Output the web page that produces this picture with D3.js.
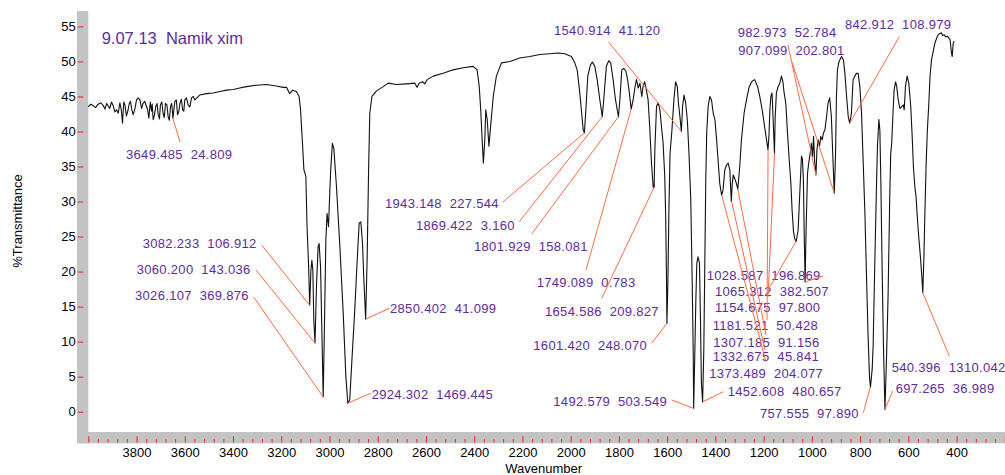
<!DOCTYPE html>
<html>
<head>
<meta charset="utf-8">
<script src="https://cdn.jsdelivr.net/npm/d3@7"></script>
<style>
  html, body { margin: 0; padding: 0; background: #fff; }
  svg { display: block; font-family: "Liberation Sans", Arial, sans-serif; }
</style>
</head>
<body>
<svg id="chart" width="1005" height="475"></svg>
<script>
// IR spectrum: wavenumber (cm-1) and %Transmittance
const wavenumbers = [
  4000, 3990, 3980, 3970, 3959, 3948, 3938, 3931, 3924, 3911, 3904, 3897, 3890, 3883, 3876,
  3869, 3863, 3858, 3853, 3848, 3842, 3835, 3830, 3825, 3819, 3814, 3807, 3800, 3793, 3786,
  3779, 3773, 3766, 3759, 3754, 3749, 3743, 3738, 3735, 3731, 3726, 3720, 3715, 3710, 3705,
  3701, 3695, 3690, 3685, 3680, 3674, 3669, 3664, 3659, 3654, 3649, 3645, 3641, 3635, 3630,
  3625, 3620, 3614, 3609, 3604, 3600, 3593, 3586, 3579, 3572, 3565, 3558,
  3538, 3510, 3482, 3455, 3427, 3399, 3372, 3344,
  3303, 3261, 3220, 3192, 3178, 3165, 3153, 3137, 3126, 3120, 3112, 3106, 3101, 3098, 3093,
  3087, 3082, 3077, 3073, 3069, 3065, 3060, 3054, 3047, 3043, 3037, 3032, 3026, 3021, 3015,
  3010, 3004, 3000, 2995, 2988, 2982, 2971, 2957, 2943, 2932, 2924, 2916, 2907, 2896, 2885,
  2877, 2870, 2863, 2858, 2850, 2844, 2838, 2833, 2824, 2805, 2777, 2757, 2722, 2681, 2646,
  2637, 2628, 2614, 2605, 2595, 2570, 2529, 2487, 2446, 2404, 2388, 2379, 2373, 2367, 2362,
  2356, 2352, 2346, 2339, 2332, 2321, 2308, 2287, 2252, 2211, 2169, 2128, 2086, 2052, 2024,
  1997, 1983, 1973, 1965, 1957, 1948, 1943, 1937, 1929, 1918, 1910, 1900, 1890, 1879, 1869,
  1863, 1852, 1842, 1834, 1824, 1814, 1802, 1796, 1788, 1780, 1771, 1765, 1758, 1749, 1741,
  1733, 1727, 1720, 1713, 1705, 1700, 1693, 1686, 1679, 1672, 1665, 1658, 1654, 1651, 1644,
  1637, 1630, 1623, 1617, 1610, 1606, 1603, 1601, 1597, 1593, 1588, 1581, 1572, 1565, 1558,
  1553, 1547, 1541, 1536, 1530, 1523, 1516, 1509, 1502, 1496, 1492, 1490, 1485, 1481, 1477,
  1472, 1466, 1462, 1458, 1453, 1448, 1444, 1440, 1436, 1430, 1423, 1416, 1409, 1402, 1396,
  1389, 1382, 1374, 1368, 1361, 1354, 1347, 1340, 1334, 1330, 1326, 1320, 1313, 1307, 1299,
  1292, 1281, 1271, 1261, 1250, 1237, 1225, 1216, 1206, 1198, 1190, 1182, 1178, 1174, 1170,
  1165, 1161, 1155, 1152, 1147, 1140, 1133, 1126, 1120, 1115, 1108, 1101, 1094, 1087, 1082,
  1076, 1071, 1065, 1057, 1050, 1043, 1039, 1035, 1032, 1028, 1024, 1018, 1013, 1007, 1002,
  997, 993, 988, 983, 979, 974, 968, 963, 957, 952, 946, 939, 933, 926, 919,
  913, 907, 902, 898, 894, 887, 877, 869, 863, 856, 849, 843, 836, 829, 822,
  815, 808, 801, 794, 787, 780, 774, 767, 761, 757, 750, 746, 739, 733, 728,
  722, 718, 714, 709, 703, 697, 691, 684, 677, 673, 669, 663, 659, 653, 648,
  642, 635, 628, 621, 617, 612, 605, 598, 590, 584, 579, 573, 568, 562, 557,
  551, 545, 540, 535, 532, 526, 521, 515, 510, 504, 497, 490, 483, 476, 469,
  463, 458, 451, 445, 438, 431, 427, 421, 418, 414, 410
];
const transmittance = [
  43.5, 43.9, 43.7, 43.4, 43.9, 44.1, 43.7, 43.2, 44.0, 43.3, 44.2, 43.7, 42.8, 43.1, 42.6,
  44.1, 43.0, 41.2, 44.2, 43.8, 42.2, 43.1, 44.0, 44.3, 43.0, 42.4, 43.2, 44.5, 44.8, 44.5,
  43.3, 44.0, 44.3, 43.6, 43.1, 41.9, 44.2, 42.9, 43.9, 41.7, 42.3, 43.6, 44.0, 42.4, 41.8,
  43.8, 44.2, 42.6, 42.0, 44.0, 43.8, 42.1, 41.6, 43.6, 44.0, 41.9, 43.2, 44.3, 44.5, 42.4,
  42.8, 44.0, 44.6, 43.1, 42.9, 44.5, 44.8, 43.8, 43.5, 44.8, 45.0, 44.5,
  45.2, 45.4, 45.5, 45.7, 45.9, 46.0, 46.2, 46.4,
  46.6, 46.7, 46.5, 46.3, 46.3, 45.4, 45.9, 45.7, 45.0, 43.1, 38.3, 34.5, 34.0, 33.6, 26.4,
  21.2, 15.2, 20.2, 21.6, 20.2, 13.1, 9.8, 17.9, 23.6, 24.0, 20.7, 12.1, 2.1, 12.1, 24.5,
  28.3, 26.4, 30.2, 34.5, 38.3, 37.6, 32.1, 23.6, 14.0, 5.0, 1.2, 1.7, 7.4, 14.0, 21.7,
  26.9, 27.1, 24.0, 19.3, 13.2, 21.7, 34.1, 42.6, 45.0, 45.8, 46.4, 46.9, 46.7, 46.8, 46.9,
  46.3, 46.9, 47.1, 46.8, 47.4, 47.9, 48.3, 48.8, 49.1, 49.3, 48.8, 46.4, 43.1, 38.8, 35.5,
  38.8, 43.1, 41.7, 37.9, 40.7, 45.0, 47.9, 49.8, 50.0, 50.5, 50.7, 51.0, 51.1, 51.2, 51.1,
  50.7, 49.8, 48.8, 46.4, 43.6, 40.2, 39.8, 43.1, 47.9, 49.5, 49.9, 49.3, 47.4, 44.5, 42.1,
  44.5, 49.3, 50.1, 49.8, 47.4, 44.5, 42.1, 44.5, 48.8, 49.0, 48.6, 47.6, 45.9, 43.2, 44.5,
  46.4, 47.4, 46.2, 46.9, 45.0, 46.4, 47.1, 45.9, 44.5, 40.5, 35.5, 32.1, 32.0, 37.4, 43.6,
  44.1, 43.1, 40.5, 38.5, 33.6, 27.9, 20.0, 12.6, 18.3, 27.9, 36.9, 39.8, 44.5, 47.1, 46.4,
  44.0, 42.1, 40.0, 43.6, 45.2, 44.0, 41.5, 36.5, 30.2, 18.3, 8.8, 0.5, 8.8, 15.9, 21.2,
  22.1, 21.2, 13.6, 4.1, 1.4, 8.8, 20.7, 32.6, 39.8, 43.6, 45.0, 44.5, 42.6, 41.7, 39.3,
  36.0, 32.6, 30.9, 31.7, 34.5, 35.2, 35.5, 34.5, 30.0, 32.6, 33.8, 33.3, 32.6, 31.8, 35.0,
  38.8, 42.6, 44.5, 46.2, 47.1, 47.4, 46.4, 45.0, 43.1, 41.2, 39.3, 37.4, 39.3, 43.1, 45.0,
  45.5, 42.1, 36.9, 42.1, 45.5, 46.4, 46.9, 47.9, 47.1, 45.5, 44.0, 39.8, 36.0, 32.6, 28.8,
  25.7, 24.7, 24.3, 25.9, 31.2, 36.5, 36.0, 33.0, 25.9, 18.5, 25.9, 34.0, 35.5, 36.9, 38.3,
  36.4, 39.3, 35.5, 33.8, 37.4, 38.8, 37.9, 39.3, 38.8, 39.8, 40.2, 42.1, 44.0, 44.8, 42.1,
  36.4, 31.2, 36.4, 45.0, 48.8, 50.0, 50.7, 50.2, 48.3, 45.0, 42.1, 41.2, 42.6, 47.4, 47.9,
  48.3, 48.3, 46.4, 42.6, 35.5, 28.3, 20.2, 11.0, 5.0, 3.5, 6.0, 9.3, 21.2, 30.7, 37.9,
  41.7, 40.2, 33.1, 21.2, 9.3, 0.3, 6.9, 16.4, 30.7, 36.9, 38.3, 43.1, 45.9, 47.1, 46.4,
  44.5, 43.3, 43.5, 43.8, 43.1, 46.4, 47.9, 46.9, 43.6, 39.3, 35.0, 32.1, 30.7, 27.4, 25.0,
  22.6, 19.8, 17.0, 22.6, 27.4, 35.5, 40.2, 44.0, 47.9, 50.2, 51.4, 52.6, 53.3, 53.8, 54.0,
  54.1, 53.7, 53.8, 53.5, 53.6, 53.3, 53.1, 51.2, 50.7, 52.6, 52.9
];

// Picked peaks: position and the intensity figure printed beside it
const peakWavenumbers = [
  3649.485, 3082.233, 3060.200, 3026.107, 2924.302, 2850.402, 1943.148, 1869.422,
  1801.929, 1749.089, 1654.586, 1601.420, 1540.914, 1492.579, 1452.608, 1373.489,
  1332.675, 1307.185, 1181.521, 1154.675, 1065.312, 1028.587, 982.973, 907.099,
  842.912, 757.555, 697.265, 540.396
];
const peakIntensities = [
  "24.809", "106.912", "143.036", "369.876", "1469.445", "41.099", "227.544", "3.160",
  "158.081", "0.783", "209.827", "248.070", "41.120", "503.549", "480.657", "204.077",
  "45.841", "91.156", "50.428", "97.800", "382.507", "196.869", "52.784", "202.801",
  "108.979", "97.890", "36.989", "1310.042"
];

const xTickLabels = [3800, 3600, 3400, 3200, 3000, 2800, 2600, 2400, 2200, 2000,
                     1800, 1600, 1400, 1200, 1000, 800, 600, 400];
const yTickLabels = [0, 5, 10, 15, 20, 25, 30, 35, 40, 45, 50, 55];

const title = "9.07.13\u00a0\u00a0Namik xim";
const xTitle = "Wavenumber";
const yTitle = "%Transmittance";

// Where each peak label sits (text left / middle, and start of its leader line)
const labelLayout = [
  {tx: 126, ty: 154, ax: 180, ay: 142},
  {tx: 142.7, ty: 243.3, ax: 261.7, ay: 245},
  {tx: 136.7, ty: 269, ax: 256, ay: 270},
  {tx: 135, ty: 295.7, ax: 253.7, ay: 297},
  {tx: 371.7, ty: 394, ax: 370.7, ay: 393.3},
  {tx: 390, ty: 308.3, ax: 389.3, ay: 308.3},
  {tx: 385, ty: 203.3, ax: 503.3, ay: 201.7},
  {tx: 416, ty: 225, ax: 519.3, ay: 221.7},
  {tx: 474, ty: 246, ax: 531.7, ay: 234},
  {tx: 536.7, ty: 282.7, ax: 586, ay: 270},
  {tx: 545, ty: 311, ax: 601.7, ay: 298.3},
  {tx: 533.3, ty: 345, ax: 651.7, ay: 343.3},
  {tx: 554, ty: 30, ax: 608.3, ay: 41.7},
  {tx: 553.3, ty: 401.7, ax: 671.7, ay: 400},
  {tx: 727.7, ty: 391.7, ax: 723.3, ay: 391.7},
  {tx: 709.3, ty: 373.3, ax: 766, ay: 362},
  {tx: 712.7, ty: 356.7, ax: 765, ay: 350},
  {tx: 713.3, ty: 342.3, ax: 766, ay: 335},
  {tx: 712.7, ty: 325, ax: 767, ay: 320},
  {tx: 715, ty: 307.3, ax: 768, ay: 297},
  {tx: 715, ty: 291.7, ax: 770, ay: 286.7},
  {tx: 706.7, ty: 275.7, ax: 823.3, ay: 276},
  {tx: 737.7, ty: 32.3, ax: 788, ay: 45},
  {tx: 738.3, ty: 50.7, ax: 792, ay: 62},
  {tx: 845, ty: 24, ax: 899.3, ay: 36.7},
  {tx: 760, ty: 413.3, ax: 863.3, ay: 412.7},
  {tx: 895.7, ty: 388.3, ax: 892.7, ay: 391},
  {tx: 891.7, ty: 367.7, ax: 949.3, ay: 356}
];

const purple = "#5b2c9e";
const leaderColor = "#ff6a45";
const tickRed = "#ff1a1a";
const barGray = "#c3c3c3";

const svg = d3.select("#chart");

const x = d3.scaleLinear().domain([4000, 200]).range([88.3, 1004.8]);
const y = d3.scaleLinear().domain([-2.9, 57.2]).range([432, 11]);

// frame bars
svg.append("rect").attr("x", 77).attr("y", 11).attr("width", 11.3).attr("height", 432.3).attr("fill", barGray);
svg.append("rect").attr("x", 77).attr("y", 432).attr("width", 928).attr("height", 11.3).attr("fill", barGray);

// x axis: major ticks every 200, minor every 40, pointing up from the bar's bottom edge
const majorX = d3.range(4000, 199, -200);
const minorX = d3.range(4000, 199, -40).filter(v => v % 200 !== 0);

const xMinor = svg.append("g").attr("transform", "translate(0,442.5)")
  .call(d3.axisBottom(x).tickValues(minorX).tickSize(-3.3).tickFormat(""));
xMinor.select(".domain").remove();
xMinor.selectAll("line").attr("stroke", tickRed);

const xMajor = svg.append("g").attr("transform", "translate(0,442.5)")
  .call(d3.axisBottom(x).tickValues(majorX).tickSize(-6.3).tickPadding(5.5)
        .tickFormat(d => xTickLabels.includes(d) ? d : ""));
xMajor.select(".domain").remove();
xMajor.selectAll("line").attr("stroke", tickRed);
xMajor.selectAll("text").attr("fill", "#000").attr("font-size", 13)
  .attr("font-family", "'Liberation Sans', Arial, sans-serif");

// y axis
const yAx = svg.append("g").attr("transform", "translate(83.3,0)")
  .call(d3.axisLeft(y).tickValues(yTickLabels).tickSize(5.6).tickPadding(2));
yAx.select(".domain").remove();
yAx.selectAll("line").attr("stroke", tickRed);
yAx.selectAll("text").attr("fill", "#000").attr("font-size", 13)
  .attr("font-family", "'Liberation Sans', Arial, sans-serif");

// spectrum trace
const spectrum = wavenumbers.map((w, i) => [w, transmittance[i]]);
svg.append("path")
  .datum(spectrum)
  .attr("fill", "none")
  .attr("stroke", "#111")
  .attr("stroke-width", 1.1)
  .attr("stroke-linejoin", "round")
  .attr("d", d3.line().x(d => x(d[0])).y(d => y(d[1])));

// lowest point of the trace near a picked peak
function troughNear(w) {
  let best = null;
  spectrum.forEach(p => {
    if (Math.abs(p[0] - w) <= 4 && (best === null || p[1] < best[1])) best = p;
  });
  return best ? best[1] : 0;
}

// peak labels and leader lines
const peaks = peakWavenumbers.map((w, i) => ({
  w, t: troughNear(w),
  text: w.toFixed(3) + "\u00a0\u00a0" + peakIntensities[i],
  lay: labelLayout[i]
}));

svg.append("g").selectAll("text").data(peaks).join("text")
  .attr("x", d => d.lay.tx)
  .attr("y", d => d.lay.ty)
  .attr("dy", "0.36em")
  .attr("font-size", 13)
  .attr("letter-spacing", 0.32)
  .attr("fill", purple)
  .text(d => d.text);

svg.append("g").selectAll("line").data(peaks).join("line")
  .attr("x1", d => d.lay.ax).attr("y1", d => d.lay.ay)
  .attr("x2", d => x(d.w)).attr("y2", d => y(d.t))
  .attr("stroke", leaderColor)
  .attr("stroke-width", 1);

// titles
svg.append("text")
  .attr("x", 101.7).attr("y", 38.3).attr("dy", "0.36em")
  .attr("font-size", 16.5).attr("fill", purple).text(title);

svg.append("text")
  .attr("x", 543.7).attr("y", 468.3).attr("dy", "0.36em")
  .attr("text-anchor", "middle").attr("font-size", 13).attr("fill", "#000").text(xTitle);

svg.append("text")
  .attr("transform", "translate(17.5,221) rotate(-90)")
  .attr("dy", "0.36em")
  .attr("text-anchor", "middle").attr("font-size", 13).attr("fill", "#000").text(yTitle);
</script>
</body>
</html>
